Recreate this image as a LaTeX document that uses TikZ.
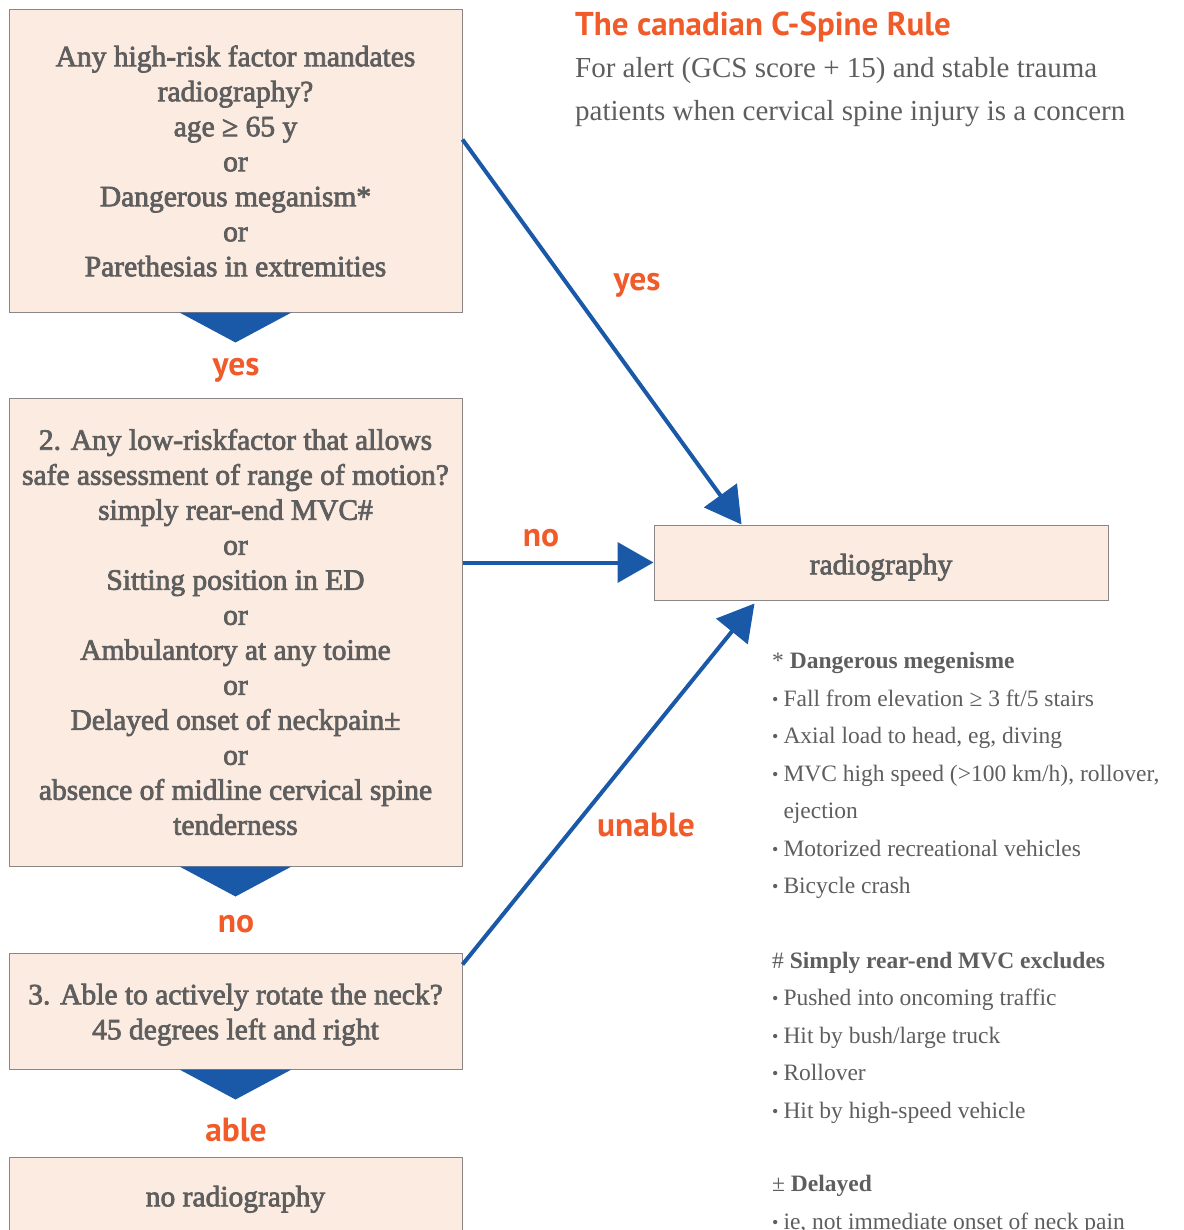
\documentclass[tikz,border=0pt]{standalone}
\usepackage{fontspec}
\setmainfont{Liberation Serif}
\newfontfamily\boxfont{Liberation Serif}[FakeBold=2.5]
\newfontfamily\labelfont{PT Sans}
\usepackage{tikz}
\usetikzlibrary{positioning,calc,arrows.meta}

\definecolor{boxfill}{HTML}{FCEBE1}
\definecolor{boxline}{HTML}{8C8585}
\definecolor{greytext}{HTML}{5E5E5E}
\definecolor{flowblue}{HTML}{1A58A8}
\definecolor{rulered}{HTML}{F15A29}

\newcommand{\lift}[1]{\rule{0pt}{#1}}
\newcommand{\dotitem}{{\fontsize{18}{18}\selectfont\raisebox{1pt}{•}}\hspace{5pt}}

\tikzset{
  stepbox/.style={draw=boxline, line width=1pt, fill=boxfill, text=greytext,
    minimum width=453pt, align=center, inner sep=0pt,
    font=\boxfont\fontsize{29.5}{35}\selectfont},
  answer/.style={text=rulered, font=\labelfont\bfseries\fontsize{33.5}{36}\selectfont},
  flow/.style={draw=flowblue, line width=4pt,
    -{Triangle[length=36pt,width=40pt]}},
  notes/.style={text=greytext, align=left, inner sep=0pt, anchor=north west,
    font=\fontsize{23.5}{37.5}\selectfont}
}

\begin{document}
\begin{tikzpicture}[x=1pt,y=-1pt]
    \useasboundingbox (0,0) rectangle (1183,1230);

    % left column
    \node[stepbox, minimum height=302pt] (risk) at (235.5,161) {Any high-risk factor mandates\\radiography?\\age ≥ 65 y\\or\\Dangerous meganism*\\or\\Parethesias in extremities};
    \node[stepbox, minimum height=468pt] (low) at (235.5,632) {2. Any low-riskfactor that allows\\safe assessment of range of motion?\\simply rear-end MVC\#\\or\\Sitting position in ED\\or\\Ambulantory at any toime\\or\\Delayed onset of neckpain±\\or\\absence of midline cervical spine\\tenderness};
    \node[stepbox, minimum height=116pt] (rotate) at (235.5,1011) {\lift{28pt}3. Able to actively rotate the neck?\\45 degrees left and right};
    \node[stepbox, minimum height=80pt] (noradio) at (235.5,1197) {\lift{25pt}no radiography};

    % down pointers
    \foreach \stepname in {risk,low,rotate}
        \fill[flowblue] ($(\stepname.south)+(-56,0)$) -- ($(\stepname.south)+(56,0)$) -- ($(\stepname.south)+(0,30)$) -- cycle;
    \node[answer] (ryes) at (236,370) {yes};
    \node[answer] (lno) at (236,924) {no};
    \node[answer] (rable) at (236,1130) {able};

    % right side
    \node[stepbox, minimum width=454pt, minimum height=75pt] (radio) at (881,562.5) {\lift{30pt}radiography};
    \coordinate (riskout) at ($(risk.north east)+(0,130)$);
    \coordinate (rotout) at ($(rotate.north east)+(0,12)$);
    \draw[flow] (riskout) -- ($(radio.north west)+(88,0)$);
    \draw[flow] (low.east |- radio.west) -- (radio.west);
    \draw[flow] (rotout) -- ($(radio.south west)+(101,3)$);
    \node[answer] (myes) at (637,285) {yes};
    \node[answer] (mno) at (541,538) {no};
    \node[answer] (munable) at (646,825) {unable};

    % title
    \node[anchor=west, inner xsep=0pt, text=rulered, font=\labelfont\bfseries\fontsize{33}{36}\selectfont] (title) at (575,27) {The canadian C-Spine Rule};
    \node[anchor=north west, text=greytext, align=left, inner sep=0pt, font=\fontsize{29}{43}\selectfont] (intro) at (575,57.5) {For alert (GCS score + 15) and stable trauma\\patients when cervical spine injury is a concern};

    % footnotes
    \node[notes] (notesA) at (772,652) {* \textbf{Dangerous megenisme}\\
        \dotitem Fall from elevation ≥ 3 ft/5 stairs\\
        \dotitem Axial load to head, eg, diving\\
        \dotitem MVC high speed (>100 km/h), rollover,\\
        \hphantom{\dotitem}ejection\\
        \dotitem Motorized recreational vehicles\\
        \dotitem Bicycle crash};
    \node[notes] (notesB) at (772,951.5) {\# \textbf{Simply rear-end MVC excludes}\\
        \dotitem Pushed into oncoming traffic\\
        \dotitem Hit by bush/large truck\\
        \dotitem Rollover\\
        \dotitem Hit by high-speed vehicle};
    \node[notes] (notesC) at (772,1175) {± \textbf{Delayed}\\
        \dotitem ie, not immediate onset of neck pain};
\end{tikzpicture}
\end{document}
